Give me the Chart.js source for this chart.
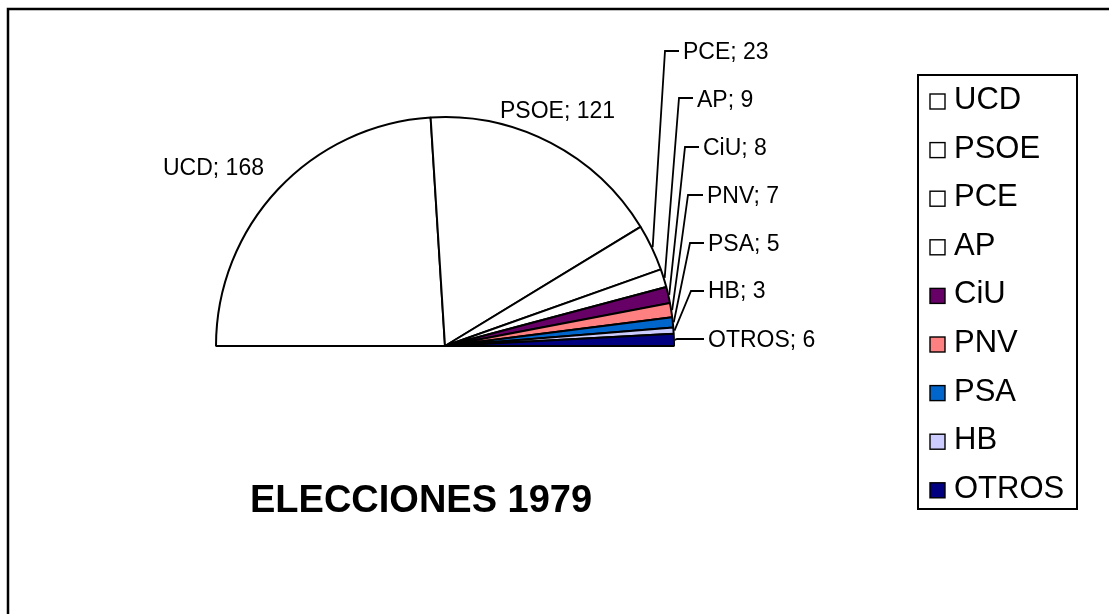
<!DOCTYPE html>
<html>
<head>
<meta charset="utf-8">
<script src="https://cdn.jsdelivr.net/npm/chart.js@4/dist/chart.umd.min.js"></script>
<style>
html, body { margin: 0; padding: 0; background: #fff; }
canvas { display: block; }
</style>
</head>
<body>
<canvas id="escanos" width="1109" height="614"></canvas>
<script>
const parties = ['UCD', 'PSOE', 'PCE', 'AP', 'CiU', 'PNV', 'PSA', 'HB', 'OTROS'];
const seats = [168, 121, 23, 9, 8, 7, 5, 3, 6];
const chartTitle = 'ELECCIONES 1979';

const sliceColors = ['#FFFFFF', '#FFFFFF', '#FFFFFF', '#FFFFFF', '#660066', '#FF8080', '#0066CC', '#CCCCFF', '#000080'];
const FONT = '"Liberation Sans", Arial, sans-serif';

// dónde va cada etiqueta (x texto, baseline) y su línea guía (codo ex/ey, fin hx)
const labelPos = [
    { x: 163, y: 175 },
    { x: 500, y: 118 },
    { x: 683, y: 59, ex: 665, ey: 51, hx: 679 },
    { x: 697, y: 107, ex: 679, ey: 98, hx: 693 },
    { x: 703, y: 155, ex: 685, ey: 147, hx: 699 },
    { x: 707, y: 203, ex: 688, ey: 195, hx: 703 },
    { x: 708, y: 251, ex: 690, ey: 243, hx: 704 },
    { x: 708, y: 298, ex: 691, ey: 291, hx: 704 },
    { x: 708, y: 347, ex: 677, ey: 339, hx: 704 }
];

const decoPlugin = {
    id: 'deco',
    afterDatasetsDraw(chart) {
        const ctx = chart.ctx;
        const meta = chart.getDatasetMeta(0);
        const ds = chart.data.datasets[0];
        ctx.save();
        ctx.font = '23px ' + FONT;
        ctx.fillStyle = '#000';
        ctx.strokeStyle = '#000';
        ctx.lineWidth = 1.8;
        ctx.textBaseline = 'alphabetic';
        meta.data.forEach((arc, i) => {
            const p = labelPos[i];
            if (p.ex !== undefined) {
                const a = arc.getProps(['x', 'y', 'startAngle', 'endAngle', 'outerRadius'], true);
                const mid = (a.startAngle + a.endAngle) / 2;
                const sx = a.x + Math.cos(mid) * (a.outerRadius + 1);
                const sy = a.y + Math.sin(mid) * (a.outerRadius + 1);
                ctx.beginPath();
                ctx.moveTo(sx, sy);
                ctx.lineTo(p.ex, p.ey);
                ctx.lineTo(p.hx, p.ey);
                ctx.stroke();
            }
            ctx.fillText(chart.data.labels[i] + '; ' + ds.data[i], p.x, p.y);
        });

        // título
        ctx.font = 'bold 38px ' + FONT;
        ctx.fillText(chartTitle, 250, 512);

        // leyenda con marco
        ctx.lineWidth = 2;
        ctx.strokeRect(918, 75, 159, 434);
        ctx.font = '31px ' + FONT;
        chart.data.labels.forEach((lab, i) => {
            const base = 109 + i * 48.6;
            ctx.fillStyle = ds.backgroundColor[i];
            ctx.fillRect(930, base - 15, 15, 15);
            ctx.lineWidth = 1.4;
            ctx.strokeRect(930, base - 15, 15, 15);
            ctx.fillStyle = '#000';
            ctx.fillText(lab, 954, base);
        });

        // marco exterior (solo arriba e izquierda visibles)
        ctx.lineWidth = 2.5;
        ctx.beginPath();
        ctx.moveTo(8, 614);
        ctx.lineTo(8, 9);
        ctx.lineTo(1109, 9);
        ctx.stroke();
        ctx.restore();
    }
};

new Chart(document.getElementById('escanos'), {
    type: 'pie',
    data: {
        labels: parties,
        datasets: [{
            data: seats,
            backgroundColor: sliceColors,
            borderColor: '#000',
            borderWidth: 2
        }]
    },
    options: {
        responsive: false,
        animation: false,
        rotation: -90,
        circumference: 180,
        radius: 229,
        layout: { padding: { left: 0, right: 219, top: 0, bottom: 151 } },
        plugins: {
            legend: { display: false },
            tooltip: { enabled: false },
            title: { display: false }
        }
    },
    plugins: [decoPlugin]
});
</script>
</body>
</html>
